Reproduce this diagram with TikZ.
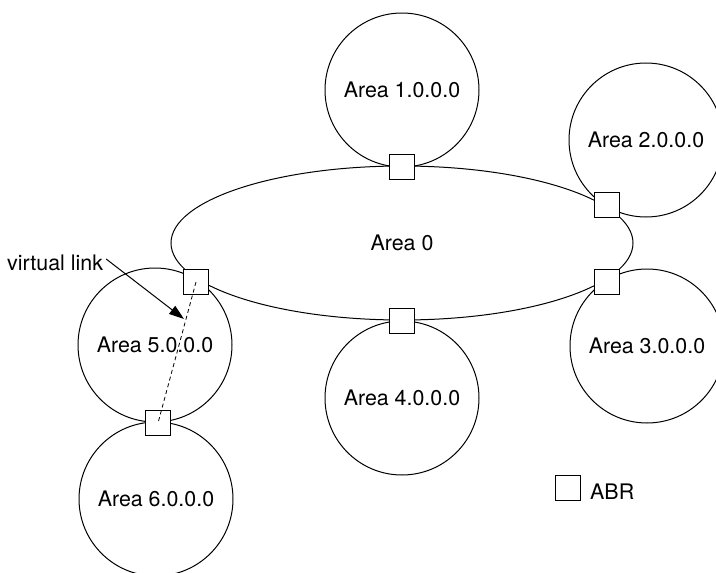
\documentclass[tikz,border=0pt]{standalone}
\usepackage{fontspec}
\setmainfont{TeX Gyre Heros}
\usetikzlibrary{shapes.geometric,arrows.meta}
\tikzset{
  lbl/.style={font=\fontsize{21.4}{25}\selectfont},
  area/.style={lbl, draw, circle, line width=1pt, minimum size=154pt, inner sep=0pt},
  backbone/.style={lbl, draw, ellipse, line width=1pt, minimum width=462pt, minimum height=154pt, inner sep=0pt},
  abr/.style={draw, fill=white, line width=1pt, minimum size=25pt, inner sep=0pt},
  vlink/.style={line width=0.8pt, dash pattern=on 4pt off 3pt},
  pointer/.style={line width=1pt, -{Triangle[length=15pt,width=10pt]}}
}
\begin{document}
\begin{tikzpicture}[x=1pt,y=-1pt]
  \useasboundingbox (0,0) rectangle (716,573);

  % areas around the backbone
  \node[area] (a1) at (402,90)  {Area 1.0.0.0};
  \node[area] (a2) at (646,140) {Area 2.0.0.0};
  \node[area] (a3) at (647,346) {Area 3.0.0.0};
  \node[area] (a4) at (402,398) {Area 4.0.0.0};
  \node[area] (a5) at (155,345) {Area 5.0.0.0};
  \node[area] (a6) at (156,499) {Area 6.0.0.0};

  % backbone area
  \node[backbone] (a0) at (402,243) {Area 0};

  % area border routers
  \node[abr] (r1)  at (402,167) {};
  \node[abr] (r2)  at (607,205) {};
  \node[abr] (r3)  at (607,282) {};
  \node[abr] (r4)  at (402,321) {};
  \node[abr] (r5)  at (196,282) {};
  \node[abr] (r56) at (158,423) {};

  % virtual link through area 5
  \draw[vlink] (r5.center) -- (r56.center);

  % label with pointer
  \node[lbl, anchor=west, inner sep=0pt] (vl) at (7,263) {virtual link};
  \coordinate (vtip) at (184,319);
  \draw[pointer] (vl.east) ++(3,-4) coordinate (vstart) -- (vtip);

  % legend
  \node[abr] (leg) at (568,488) {};
  \node[lbl, anchor=west, inner sep=0pt] (legtxt) at (590,492) {ABR};
\end{tikzpicture}
\end{document}
